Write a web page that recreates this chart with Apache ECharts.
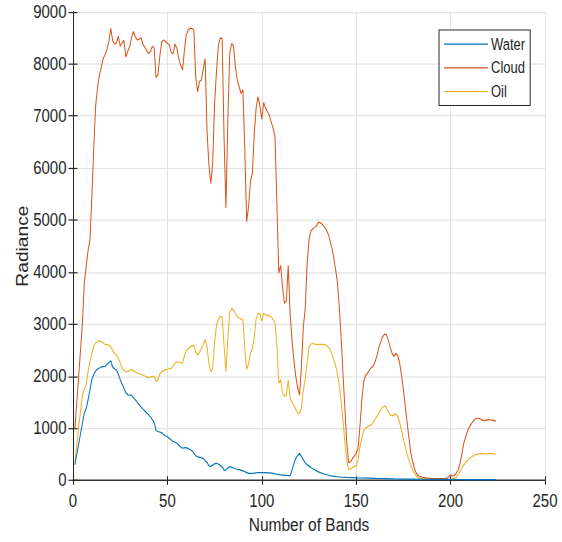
<!DOCTYPE html>
<html>
<head>
<meta charset="utf-8">
<script src="https://cdn.jsdelivr.net/npm/echarts@6/dist/echarts.min.js"></script>
<style>
  html, body { margin: 0; padding: 0; background: #ffffff; overflow: hidden; }
  #frame { width: 562px; height: 542px; overflow: hidden; }
  /* the figure is drawn at 562x452 and stretched vertically to 542px */
  #chart { width: 562px; height: 452px; transform-origin: 0 0; transform: scaleY(1.19912); }
</style>
</head>
<body>
<div id="frame"><div id="chart"></div></div>
<script>
// Radiance spectra per spectral band for three surface types.
const seriesNames = ['Water', 'Cloud', 'Oil'];
const xTicks = [0, 50, 100, 150, 200, 250];
const yTicks = [0, 1000, 2000, 3000, 4000, 5000, 6000, 7000, 8000, 9000];

const waterBands = [1,3,5,6,7,8,9,10,11,12,13,14,15,16,17,18,19,20,21,22,23,24,25,26,27,28,29,30,31,32,33,34,35,36,37,38,39,40,41,42,43,44,45,46,47,48,49,50,51,52,53,54,55,56,57,58,59,60,61,62,63,64,65,66,67,68,69,70,71,72,73,74,75,76,77,78,79,80,81,82,83,84,85,86,87,88,89,90,91,92,93,94,95,96,97,98,99,100,101,102,103,104,105,106,107,108,109,110,111,112,113,114,115,116,117,118,119,120,121,122,123,124,125,126,127,128,129,130,131,132,133,134,135,136,137,138,140,142,145,148,152,156,160,165,170,175,180,185,190,195,200,205,210,215,220,224];
const waterRadiance = [300,700,1100,1300,1380,1550,1750,1940,2040,2100,2140,2160,2180,2185,2190,2230,2260,2300,2180,2140,2120,2040,1940,1850,1770,1680,1645,1640,1640,1590,1550,1500,1460,1415,1375,1340,1300,1265,1220,1170,1110,960,940,930,915,880,860,840,810,780,748,735,720,680,650,620,625,630,612,595,570,530,475,452,445,435,425,380,350,280,270,295,320,330,315,290,265,200,200,245,265,255,240,225,215,208,200,185,170,150,137,135,137,140,145,150,150,152,152,150,148,145,140,135,128,120,112,108,104,100,98,94,92,200,320,425,480,521,460,400,340,300,280,250,225,205,185,165,150,138,125,115,105,95,88,82,72,64,58,54,48,46,40,35,30,28,26,24,22,21,20,19,18,17,16,16];

const cloudBands = [1,3,5,6,8,9,10,11,12,13,14,16,17,18,19,20,21,22,23,24,25,26,27,28,29,30,31,32,33,34,35,36,37,38,39,40,41,42,43,44,45,46,47,48,49,50,51,52,53,54,55,56,57,58,59,60,61,62,63,64,65,66,67,68,69,70,71,72,73,74,75,76,77,78,79,80,81,82,83,84,85,86,87,88,89,90,91,92,93,94,95,96,97,98,99,100,101,102,103,104,105,106,107,108,109,110,111,112,113,114,115,116,117,118,119,120,121,122,123,124,125,126,127,128,129,130,131,132,133,134,135,136,137,138,139,140,141,142,143,144,145,146,147,148,149,150,151,152,153,154,155,156,157,158,159,160,161,162,163,164,165,166,167,168,169,170,171,172,173,174,175,176,177,178,179,180,181,182,183,184,185,187,189,192,196,198,199,200,201,202,203,204,205,206,207,208,209,210,211,212,213,214,215,216,217,218,219,220,221,222,223,224];
const cloudRadiance = [1000,2000,3020,3800,4420,4620,5450,6400,7200,7550,7780,8100,8180,8280,8430,8680,8450,8380,8400,8530,8340,8400,8450,8130,8240,8330,8500,8620,8520,8460,8470,8500,8380,8320,8260,8200,8230,8340,8300,7740,7790,8150,8420,8460,8430,8390,8370,8220,8190,8380,8300,8110,7980,7880,8250,8560,8650,8680,8680,8650,7750,7460,7660,7690,7910,8100,6700,6050,5700,6100,7250,7850,8350,8500,8480,6600,5230,6900,8200,8390,8350,7950,7680,7560,7430,7500,6340,4970,5260,5740,5900,6650,7150,7370,7200,6940,7260,7150,7080,7010,6880,6760,6600,5300,3980,4130,3700,3400,3450,4130,3200,2700,2300,2000,1780,1640,2200,2950,3300,4150,4620,4790,4830,4860,4890,4960,4950,4920,4880,4820,4750,4630,4480,4300,4070,3820,3360,2750,2050,1400,720,340,360,420,470,520,620,1050,1550,1900,2020,2060,2120,2170,2200,2280,2400,2560,2660,2760,2810,2800,2690,2560,2440,2380,2440,2400,2260,2020,1750,1420,1100,800,520,350,210,130,90,75,62,50,41,35,35,40,70,105,88,95,140,210,330,520,720,840,950,1030,1090,1140,1180,1195,1195,1175,1155,1148,1160,1172,1165,1160,1150,1140];

const oilBands = [1,3,5,6,7,8,9,10,11,12,13,14,15,16,17,18,19,20,21,22,23,24,25,26,27,28,29,30,31,32,33,34,35,36,37,38,39,40,41,42,43,44,45,46,47,48,49,50,51,52,53,54,55,56,57,58,59,60,61,62,63,64,65,66,67,68,69,70,71,72,73,74,75,76,77,78,79,80,81,82,83,84,85,86,87,88,89,90,91,92,93,94,95,96,97,98,99,100,101,102,103,104,105,106,107,108,109,110,111,112,113,114,115,116,117,118,119,120,121,122,123,124,125,126,127,128,129,130,131,132,133,134,135,136,137,138,139,140,141,142,143,144,145,146,147,148,149,150,151,152,153,154,155,156,157,158,159,160,161,162,163,164,165,166,167,168,169,170,171,172,173,174,175,176,177,178,179,180,181,182,183,184,186,190,195,198,201,202,203,204,205,206,207,208,209,210,211,212,213,214,215,216,217,218,219,220,221,222,223,224];
const oilRadiance = [330,1030,1640,1760,1830,2100,2280,2450,2580,2640,2670,2680,2670,2640,2610,2610,2600,2570,2500,2440,2410,2350,2260,2160,2120,2090,2095,2110,2130,2110,2085,2065,2050,2040,2025,2006,1990,1980,1985,2000,2006,1900,1920,2050,2090,2110,2130,2135,2145,2153,2200,2250,2280,2270,2260,2250,2400,2490,2530,2560,2590,2590,2470,2410,2460,2540,2610,2710,2560,2250,2090,2150,2650,2980,3100,3150,3140,2600,2090,2700,3220,3300,3280,3200,3150,3120,3100,3085,2500,2130,2240,2450,2540,2750,3100,3210,3200,3060,3210,3180,3170,3160,3140,3090,3020,2600,1870,1930,1680,1620,1630,1930,1580,1500,1440,1360,1300,1280,1400,1720,1950,2250,2560,2620,2630,2620,2615,2615,2614,2612,2608,2600,2570,2530,2440,2330,2220,2060,1840,1520,1150,730,380,210,220,250,265,290,400,650,820,960,1010,1030,1050,1065,1110,1180,1230,1290,1360,1410,1430,1400,1320,1260,1240,1260,1275,1230,1120,960,800,640,500,380,280,190,130,80,55,42,35,29,25,22,28,40,60,110,180,240,300,345,385,425,450,475,495,505,512,520,515,508,510,518,520,515,510,508];

const palette = ['#0072BD', '#D95319', '#EDB120'];
const textColor = '#262626';
const fontFamily = '"Liberation Sans", Arial, Helvetica, sans-serif';

function pairs(bands, values) {
  return bands.map((b, i) => [b, values[i]]);
}

const xMin = xTicks[0], xMax = xTicks[xTicks.length - 1], xStep = xTicks[1] - xTicks[0];
const yMin = yTicks[0], yMax = yTicks[yTicks.length - 1], yStep = yTicks[1] - yTicks[0];

const axisLine = { show: true, lineStyle: { color: textColor, width: 1 } };
const xTick = { show: true, inside: true, length: 3.5, lineStyle: { color: textColor, width: 1 } };
const yTick = { show: true, inside: true, length: 4.5, lineStyle: { color: textColor, width: 1 } };
const gridLine = { show: true, lineStyle: { color: '#e3e3e3', width: 1 } };
const plainNumber = v => String(v);

const chart = echarts.init(document.getElementById('chart'), null, { renderer: 'svg' });
chart.setOption({
  animation: false,
  backgroundColor: '#ffffff',
  textStyle: { fontFamily: fontFamily, color: textColor },
  grid: { left: 73, right: 17, top: 9.8, bottom: 51.3, outerBoundsMode: 'none', containLabel: false },
  legend: {
    data: seriesNames,
    orient: 'vertical',
    left: 439,
    top: 25,
    itemWidth: 44,
    itemHeight: 12,
    itemGap: 6.75,
    icon: 'path://M0,0H44V1H0Z',
    padding: [5.3, 5, 5.2, 5],
    borderColor: textColor,
    borderWidth: 1,
    borderRadius: 0,
    backgroundColor: '#ffffff',
    textStyle: { fontFamily: fontFamily, fontSize: 13, lineHeight: 13, color: textColor, padding: [0, 0, 0, -2] }
  },
  xAxis: [
    {
      type: 'value', min: xMin, max: xMax, interval: xStep,
      name: 'Number of Bands', nameLocation: 'middle', nameGap: 29, nameMoveOverlap: false,
      nameTextStyle: { fontSize: 15.5, color: textColor, fontFamily: fontFamily },
      axisLine: axisLine, axisTick: xTick, splitLine: gridLine,
      axisLabel: { fontSize: 15, color: textColor, margin: 10, fontFamily: fontFamily, formatter: plainNumber }
    },
    {
      type: 'value', position: 'top', min: xMin, max: xMax, interval: xStep,
      axisLine: axisLine, axisTick: xTick, splitLine: { show: false },
      axisLabel: { show: false }
    }
  ],
  yAxis: [
    {
      type: 'value', min: yMin, max: yMax, interval: yStep,
      name: 'Radiance', nameLocation: 'middle', nameGap: 42, nameMoveOverlap: false,
      nameTextStyle: { fontSize: 16, color: textColor, fontFamily: fontFamily },
      axisLine: axisLine, axisTick: yTick, splitLine: gridLine,
      axisLabel: { fontSize: 15, color: textColor, margin: 6.5, fontFamily: fontFamily, formatter: plainNumber }
    },
    {
      type: 'value', position: 'right', min: yMin, max: yMax, interval: yStep,
      axisLine: axisLine, axisTick: yTick, splitLine: { show: false },
      axisLabel: { show: false }
    }
  ],
  series: [
    { name: seriesNames[0], type: 'line', data: pairs(waterBands, waterRadiance) },
    { name: seriesNames[1], type: 'line', data: pairs(cloudBands, cloudRadiance) },
    { name: seriesNames[2], type: 'line', data: pairs(oilBands, oilRadiance) }
  ].map((s, i) => Object.assign(s, {
    showSymbol: false,
    symbol: 'none',
    lineStyle: { color: palette[i], width: 1 },
    itemStyle: { color: palette[i] },
    z: 3 - i
  }))
});
</script>
</body>
</html>
